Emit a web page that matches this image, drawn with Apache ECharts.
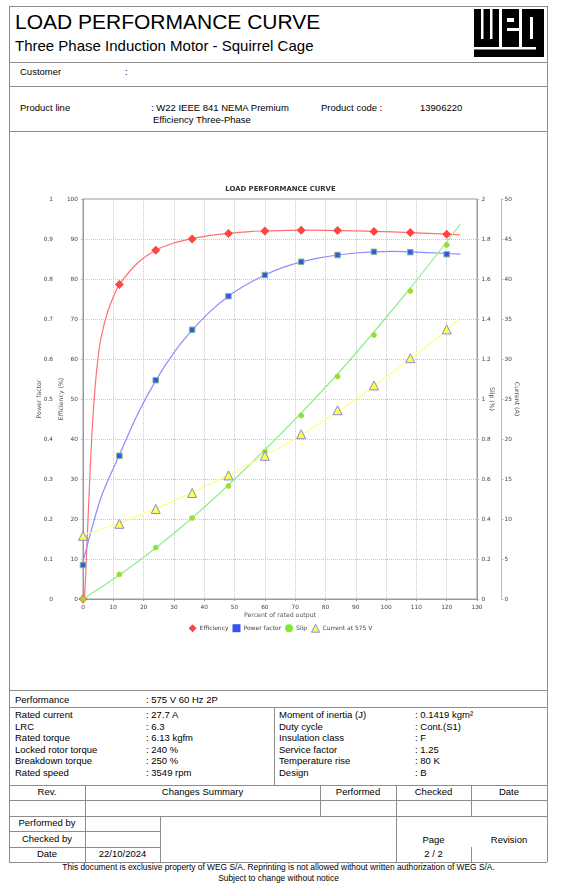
<!DOCTYPE html>
<html>
<head>
<meta charset="utf-8">
<script src="https://cdn.jsdelivr.net/npm/echarts@6/dist/echarts.min.js"></script>
<style>
  body { margin: 0; background: #fff; }
  .t { position: absolute; white-space: nowrap; color: #000; font-family: "Liberation Sans", Arial, sans-serif; }
  .h { position: absolute; height: 0; border-top: 1px solid #8c8c8c; }
  .v { position: absolute; width: 0; border-left: 1px solid #8c8c8c; }
</style>
</head>
<body>
<div id="page"></div>
<svg style="position:absolute;left:474px;top:9px" width="70" height="48" viewBox="0 0 70 48">
  <rect x="0" y="0" width="70" height="48" fill="#000"/>
  <rect x="7" y="0" width="2.5" height="30" fill="#fff"/>
  <rect x="16" y="0" width="2.5" height="30" fill="#fff"/>
  <rect x="25" y="0" width="3" height="38" fill="#fff"/>
  <rect x="33" y="9" width="7" height="4" fill="#fff"/>
  <rect x="33" y="19" width="12" height="3" fill="#fff"/>
  <rect x="45" y="0" width="3" height="38" fill="#fff"/>
  <rect x="56" y="8" width="3" height="22" fill="#fff"/>
  <rect x="0" y="38" width="62" height="2.5" fill="#fff"/>
</svg>
<div id="chart" style="position:absolute;left:0;top:131px;width:561px;height:559px"></div>
<script>
// values
var pointX = [0, 12, 24, 36, 48, 60, 72, 84, 96, 108, 120];
var effPoints = [0, 78.6, 87.2, 90.0, 91.4, 92.0, 92.2, 92.1, 91.9, 91.6, 91.2];
var pfPoints = [0.085, 0.358, 0.547, 0.673, 0.757, 0.81, 0.843, 0.86, 0.868, 0.867, 0.862];
var slipPoints = [0, 0.123, 0.257, 0.405, 0.565, 0.737, 0.918, 1.113, 1.32, 1.54, 1.77];
var currentPoints = [7.9, 9.4, 11.25, 13.25, 15.45, 17.9, 20.6, 23.6, 26.7, 30.1, 33.7];

// fitted curves, read at a few x positions
var effCurveX = [0.5, 1, 2, 3, 4, 5, 6, 8, 10, 12, 18, 24, 30, 36, 42, 48, 54, 60, 72, 84, 96, 108, 120, 124.5];
var effCurveY = [0, 8, 26, 42, 53, 60.5, 65.5, 71.5, 75.5, 78.6, 84, 87.2, 89, 90.1, 90.9, 91.4, 91.8, 92.0, 92.2, 92.1, 91.9, 91.6, 91.2, 91.0];
var pfCurveX = [0, 6, 12, 18, 24, 30, 36, 42, 48, 54, 60, 66, 72, 78, 84, 90, 96, 102, 108, 114, 120, 124.5];
var pfCurveY = [0.093, 0.255, 0.36, 0.462, 0.546, 0.616, 0.672, 0.719, 0.757, 0.786, 0.81, 0.829, 0.843, 0.853, 0.86, 0.865, 0.868, 0.869, 0.868, 0.866, 0.864, 0.862];
var slipCurveX = [0, 12, 24, 36, 48, 60, 72, 84, 96, 108, 120, 124.5];
var slipCurveY = [0, 0.12, 0.255, 0.405, 0.57, 0.745, 0.93, 1.125, 1.335, 1.555, 1.785, 1.875];
var currentCurveX = [0, 12, 24, 36, 48, 60, 72, 84, 96, 108, 120, 124.5];
var currentCurveY = [8.0, 9.5, 11.3, 13.3, 15.5, 17.9, 20.5, 23.4, 26.6, 30.0, 33.6, 35.2];

var page = document.getElementById('page');
function txt(x, cy, s, size, center, w) {
    var d = document.createElement('div');
    d.className = 't';
    d.textContent = s;
    d.style.fontSize = size + 'px';
    d.style.lineHeight = size + 'px';
    d.style.top = (cy - 0.49 * size) + 'px';
    if (center) {
        d.style.left = (x - w / 2) + 'px';
        d.style.width = w + 'px';
        d.style.textAlign = 'center';
    } else {
        d.style.left = x + 'px';
    }
    page.appendChild(d);
}
function hl(x1, x2, y) {
    var d = document.createElement('div');
    d.className = 'h';
    d.style.left = x1 + 'px'; d.style.width = (x2 - x1) + 'px'; d.style.top = y + 'px';
    page.appendChild(d);
}
function vl(x, y1, y2) {
    var d = document.createElement('div');
    d.className = 'v';
    d.style.left = x + 'px'; d.style.top = y1 + 'px'; d.style.height = (y2 - y1) + 'px';
    page.appendChild(d);
}

// frame
[6, 62, 86, 131, 690, 707, 785, 800, 816, 862].forEach(function (y) { hl(9, 547, y); });
hl(9, 160, 831); hl(9, 160, 847);
vl(9, 6, 862); vl(547, 6, 862);
vl(274, 707, 785);
vl(85, 785, 862); vl(160, 816, 862);
vl(320, 785, 816); vl(396, 785, 862);
vl(471, 785, 816); vl(471, 847, 862);

// header
txt(15, 21, 'LOAD PERFORMANCE CURVE', 21);
txt(15, 45, 'Three Phase Induction Motor - Squirrel Cage', 15);
var fs = 9.5;
txt(20, 72, 'Customer', fs); txt(125, 72, ':', fs);
txt(20, 107.5, 'Product line', fs);
txt(151, 107.5, ': W22 IEEE 841 NEMA Premium', fs);
txt(153, 119.3, 'Efficiency Three-Phase', fs);
txt(321, 107.5, 'Product code :', fs);
txt(420, 107.5, '13906220', fs);

// performance data
txt(15, 699.3, 'Performance', fs); txt(146, 699.3, ': 575 V 60 Hz 2P', fs);
var leftRows = [['Rated current', ': 27.7 A'], ['LRC', ': 6.3'], ['Rated torque', ': 6.13 kgfm'],
    ['Locked rotor torque', ': 240 %'], ['Breakdown torque', ': 250 %'], ['Rated speed', ': 3549 rpm']];
var rightRows = [['Moment of inertia (J)', ': 0.1419 kgm²'], ['Duty cycle', ': Cont.(S1)'], ['Insulation class', ': F'],
    ['Service factor', ': 1.25'], ['Temperature rise', ': 80 K'], ['Design', ': B']];
var rowY = [714.3, 726.7, 737.9, 749.8, 760.9, 772.3];
rowY.forEach(function (y, i) {
    txt(15, y, leftRows[i][0], fs); txt(146, y, leftRows[i][1], fs);
    txt(279, y, rightRows[i][0], fs); txt(415, y, rightRows[i][1], fs);
});

// revision table
txt(47, 791.7, 'Rev.', fs, true, 76);
txt(202.5, 791.7, 'Changes Summary', fs, true, 230);
txt(358, 791.7, 'Performed', fs, true, 76);
txt(433.5, 791.7, 'Checked', fs, true, 76);
txt(509, 791.7, 'Date', fs, true, 76);
txt(47, 822.7, 'Performed by', fs, true, 76);
txt(47, 839, 'Checked by', fs, true, 76);
txt(47, 854, 'Date', fs, true, 76);
txt(122.5, 854, '22/10/2024', fs, true, 76);
txt(433.5, 839.3, 'Page', fs, true, 76);
txt(509, 839.3, 'Revision', fs, true, 76);
txt(433.5, 853.3, '2 / 2', fs, true, 76);
txt(278.5, 867.3, 'This document is exclusive property of WEG S/A. Reprinting is not allowed without written authorization of WEG S/A.', 8.4, true, 540);
txt(278.5, 878.3, 'Subject to change without notice', 8.4, true, 300);

// chart
function pairs(xs, ys) { return xs.map(function (x, i) { return [x, ys[i]]; }); }
var font = 'DejaVu Sans';
var tick = { fontSize: 5.8, color: '#444', fontFamily: font };
var nameStyle = { fontSize: 6.2, color: '#555', fontFamily: font };
function yAx(o) {
    return Object.assign({
        type: 'value',
        nameLocation: 'middle',
        nameMoveOverlap: false,
        nameTextStyle: nameStyle,
        axisLine: { show: true, lineStyle: { color: '#bbb' } },
        axisTick: { show: true, length: 2, lineStyle: { color: '#bbb' } },
        splitLine: { show: false }
    }, o);
}
function curve(name, axis, xs, ys, color) {
    return { name: name, type: 'line', yAxisIndex: axis, data: pairs(xs, ys), symbol: 'none',
        smooth: 0.3, z: 2, lineStyle: { color: color, width: 1.2 } };
}
var chart = echarts.init(document.getElementById('chart'));
chart.setOption({
    animation: false,
    title: {
        text: 'LOAD PERFORMANCE CURVE', left: 'center', top: 55, padding: 0,
        textStyle: { fontSize: 6.9, fontWeight: 'bold', color: '#333', fontFamily: font }
    },
    legend: {
        top: 492.7, left: 'center', padding: 0, itemWidth: 8, itemHeight: 8, itemGap: 4,
        textStyle: { fontSize: 6, color: '#444', fontFamily: font, padding: [0, 0, 0, -2] },
        data: [
            { name: 'Efficiency', icon: 'diamond', itemStyle: { color: '#ff4444' } },
            { name: 'Power factor', icon: 'rect', itemStyle: { color: '#3355ee' } },
            { name: 'Slip', icon: 'circle', itemStyle: { color: '#77ee33' } },
            { name: 'Current at 575 V', icon: 'triangle', itemStyle: { color: '#ffff44', borderColor: '#8888dd', borderWidth: 1 } }
        ]
    },
    grid: { left: 83, top: 68, width: 394, height: 400, show: true, borderColor: '#999', borderWidth: 1, outerBoundsMode: 'none' },
    xAxis: {
        type: 'value', min: 0, max: 130, interval: 10,
        name: 'Percent of rated output', nameLocation: 'middle', nameGap: 13, nameMoveOverlap: false, nameTextStyle: nameStyle,
        axisLine: { lineStyle: { color: '#999' } },
        axisTick: { show: true, length: 2, lineStyle: { color: '#999' } },
        axisLabel: Object.assign({ margin: 5 }, tick),
        splitLine: { show: true, lineStyle: { color: '#c8c8c8', type: [1, 1] } }
    },
    yAxis: [
        yAx({ position: 'left', offset: 27, min: 0, max: 1, interval: 0.1, name: 'Power factor', nameGap: 14,
            axisLabel: Object.assign({ margin: 3 }, tick) }),
        yAx({ position: 'left', min: 0, max: 100, interval: 10, name: 'Efficiency (%)', nameGap: 18.5,
            axisLine: { show: true, lineStyle: { color: '#999' } },
            axisLabel: Object.assign({ margin: 5 }, tick),
            splitLine: { show: true, lineStyle: { color: '#c8c8c8', type: [1, 1] } } }),
        yAx({ position: 'right', min: 0, max: 2, interval: 0.2, name: 'Slip (%)', nameGap: 12, nameRotate: -90,
            axisLine: { show: true, lineStyle: { color: '#999' } },
            axisLabel: Object.assign({ margin: 4.5 }, tick) }),
        yAx({ position: 'right', offset: 24.5, min: 0, max: 50, interval: 5, name: 'Current (A)', nameGap: 12.5, nameRotate: -90,
            axisLabel: Object.assign({ margin: 3 }, tick) })
    ],
    series: [
        curve('Efficiency', 1, effCurveX, effCurveY, '#ff6f6f'),
        curve('Power factor', 0, pfCurveX, pfCurveY, '#8c8cff'),
        curve('Slip', 2, slipCurveX, slipCurveY, '#8eee8e'),
        curve('Current at 575 V', 3, currentCurveX, currentCurveY, '#ffff80'),
        { name: 'Efficiency', type: 'scatter', yAxisIndex: 1, data: pairs(pointX, effPoints), symbol: 'diamond', symbolSize: 9, z: 3,
            itemStyle: { color: '#ff4444', opacity: 1 } },
        { name: 'Power factor', type: 'scatter', yAxisIndex: 0, data: pairs(pointX, pfPoints), symbol: 'rect', symbolSize: 5.5, z: 3,
            itemStyle: { color: '#3355ee', borderColor: '#88bb88', borderWidth: 1, opacity: 1 } },
        { name: 'Slip', type: 'scatter', yAxisIndex: 2, data: pairs(pointX, slipPoints), symbol: 'circle', symbolSize: 5, z: 3,
            itemStyle: { color: '#77ee33', borderColor: '#cccc33', borderWidth: 0.8, opacity: 1 } },
        { name: 'Current at 575 V', type: 'scatter', yAxisIndex: 3, data: pairs(pointX, currentPoints), symbol: 'triangle', symbolSize: 9, z: 3,
            itemStyle: { color: '#ffff44', borderColor: '#8888dd', borderWidth: 1, opacity: 1 } }
    ]
});
</script>
</body>
</html>
